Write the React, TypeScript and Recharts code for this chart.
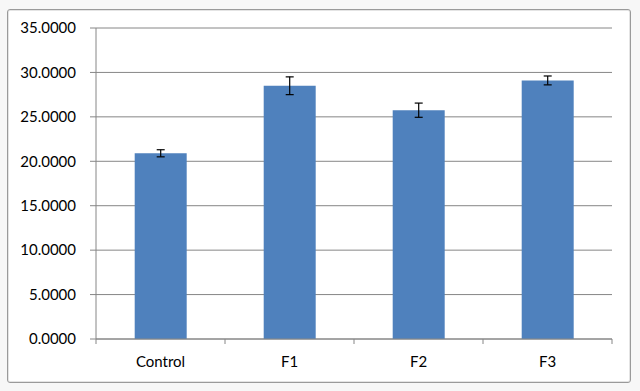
import React from 'react'
import { BarChart, Bar, XAxis, YAxis, CartesianGrid, ErrorBar } from 'recharts'

const categories = ['Control', 'F1', 'F2', 'F3']
const means = [20.9, 28.5, 25.75, 29.1]
const errors = [0.4, 1.0, 0.8, 0.5]
const yTicks = [0, 5, 10, 15, 20, 25, 30, 35]

const data = categories.map((name, i) => ({
    name,
    value: means[i],
    err: errors[i],
}))

const gridColor = '#868686'
const font = 'Lato, "Open Sans", sans-serif'

function CategoryTick(props: any) {
    const { x, y, payload, index } = props
    const half = payload.offset || 0
    return (
        <g>
            <line x1={x - half} y1={y - 8} x2={x - half} y2={y - 3} stroke={gridColor} />
            {index === categories.length - 1 && (
                <line x1={x + half} y1={y - 8} x2={x + half} y2={y - 3} stroke={gridColor} />
            )}
            <text
                x={x}
                y={y + 20}
                textAnchor="middle"
                fill="#000"
                fontSize={15}
                fontFamily={font}
            >
                {payload.value}
            </text>
        </g>
    )
}

export default function App() {
    return (
        <div
            style={{
                position: 'absolute',
                left: 0,
                top: 0,
                width: 640,
                height: 391,
                background: '#f7f7f7',
                overflow: 'hidden',
            }}
        >
            <div
                style={{
                    position: 'absolute',
                    left: 7,
                    top: 9,
                    width: 622,
                    height: 372,
                    background: '#fff',
                    border: '1px solid #9a9a9a',
                    borderRadius: 3,
                    boxShadow: 'inset 0 0 0 1px #e4e4e4',
                }}
            />
            <div style={{ position: 'absolute', left: 0, top: 0 }}>
                <BarChart
                    width={640}
                    height={391}
                    data={data}
                    margin={{ top: 28, right: 28, bottom: 22, left: 10 }}
                    barCategoryGap="30%"
                >
                    <CartesianGrid vertical={false} stroke={gridColor} strokeWidth={1} />
                    <XAxis
                        dataKey="name"
                        height={30}
                        tickLine={false}
                        axisLine={{ stroke: gridColor }}
                        tick={<CategoryTick />}
                        interval={0}
                    />
                    <YAxis
                        width={86}
                        domain={[0, 35]}
                        ticks={yTicks}
                        tickFormatter={(v: number) => v.toFixed(4)}
                        tickSize={6}
                        tickMargin={14}
                        axisLine={{ stroke: gridColor }}
                        tickLine={{ stroke: gridColor }}
                        tick={{ fill: '#000', fontSize: 15, fontFamily: font }}
                    />
                    <Bar dataKey="value" fill="#4f81bd" isAnimationActive={false}>
                        <ErrorBar
                            dataKey="err"
                            width={4}
                            stroke="#000"
                            strokeWidth={1.2}
                            direction="y"
                        />
                    </Bar>
                </BarChart>
            </div>
        </div>
    )
}
